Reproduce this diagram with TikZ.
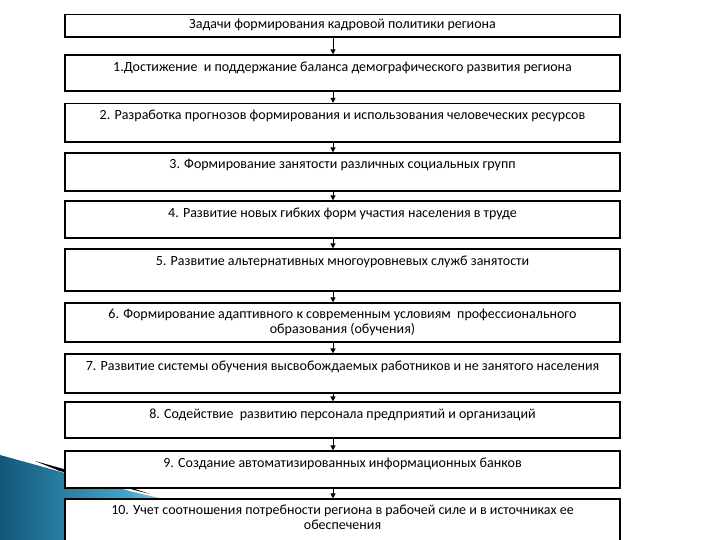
\documentclass[tikz,border=0pt]{standalone}
\usepackage{fontspec}
\setmainfont{Carlito}
\usetikzlibrary{arrows.meta}
\definecolor{swdark}{RGB}{18,88,122}
\definecolor{swlight}{RGB}{64,168,205}
\definecolor{swpale}{RGB}{150,205,230}
\begin{document}
\begin{tikzpicture}[x=1pt,y=-1pt,
  box/.style={draw=black,line width=1.2pt,fill=white},
  lbl/.style={font=\fontsize{14}{15}\selectfont,align=center,inner sep=0pt,anchor=center},
  arr/.style={line width=1pt,-{Triangle[width=5pt,length=5pt]}}]
\useasboundingbox (0,0) rectangle (720,540);
\clip (0,0) rectangle (720,540);
\fill[white] (0,0) rectangle (720,540);
% background swoosh
\shade[left color=swdark, right color=swlight]
  (0,455) -- (130,491) -- (130,540) -- (0,540) -- cycle;
\shade[left color=swlight, right color=white]
  (129,491) -- (220,512) -- (220,540) -- (129,540) -- cycle;
\fill[black] (35,461) -- (135,489) -- (150,494) -- (60,471) -- cycle;
% boxes
\node[box,minimum width=555pt,minimum height=22.5pt] (b0) at (342.5,25.75) {};
\node[box,minimum width=555pt,minimum height=36pt] (b1) at (342.5,73) {};
\node[box,minimum width=555pt,minimum height=38.5pt] (b2) at (342.5,122.75) {};
\node[box,minimum width=555pt,minimum height=38pt] (b3) at (342.5,172) {};
\node[box,minimum width=555pt,minimum height=37pt] (b4) at (342.5,219.5) {};
\node[box,minimum width=555pt,minimum height=42pt] (b5) at (342.5,270) {};
\node[box,minimum width=555pt,minimum height=39pt] (b6) at (342.5,322.5) {};
\node[box,minimum width=555pt,minimum height=39pt] (b7) at (342.5,373.5) {};
\node[box,minimum width=555pt,minimum height=36pt] (b8) at (342.5,420) {};
\node[box,minimum width=555pt,minimum height=37pt] (b9) at (342.5,469.5) {};
\node[box,minimum width=555pt,minimum height=60pt] (b10) at (342.5,529) {};
% labels
\node[lbl] (t0) at ([yshift=-11.5pt]b0.north) {Задачи формирования кадровой политики региона};
\node[lbl] (t1) at ([yshift=-13pt]b1.north) {1.Достижение \ и поддержание баланса демографического развития региона};
\node[lbl] (t2) at ([yshift=-13pt]b2.north) {2. Разработка прогнозов формирования и использования человеческих ресурсов};
\node[lbl] (t3) at ([yshift=-13pt]b3.north) {3. Формирование занятости различных социальных групп};
\node[lbl] (t4) at ([yshift=-13pt]b4.north) {4. Развитие новых гибких форм участия населения в труде};
\node[lbl] (t5) at ([yshift=-13pt]b5.north) {5. Развитие альтернативных многоуровневых служб занятости};
\node[lbl,anchor=north] (t6) at ([yshift=-6pt]b6.north) {6. Формирование адаптивного к современным условиям \ профессионального\\образования (обучения)};
\node[lbl] (t7) at ([yshift=-13pt]b7.north) {7. Развитие системы обучения высвобождаемых работников и не занятого населения};
\node[lbl] (t8) at ([yshift=-13pt]b8.north) {8. Содействие \ развитию персонала предприятий и организаций};
\node[lbl] (t9) at ([yshift=-13pt]b9.north) {9. Создание автоматизированных информационных банков};
\node[lbl,anchor=north] (t10) at ([yshift=-6pt]b10.north) {10. Учет соотношения потребности региона в рабочей силе и в источниках ее\\обеспечения};
% arrows
\foreach \a/\b in {b0/b1,b1/b2,b2/b3,b3/b4,b4/b5,b5/b6,b6/b7,b7/b8,b8/b9,b9/b10}
  \draw[arr] ([xshift=-9.5pt]\a.south) -- ([xshift=-9.5pt]\b.north);
\end{tikzpicture}
\end{document}
